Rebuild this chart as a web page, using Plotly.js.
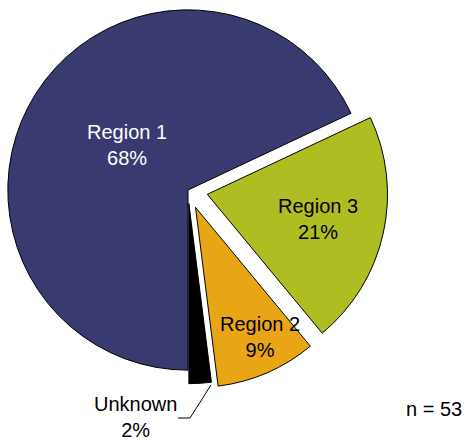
<!DOCTYPE html>
<html>
<head>
<meta charset="utf-8">
<script src="https://cdn.plot.ly/plotly-3.0.1.min.js"></script>
<style>
  html, body { margin: 0; padding: 0; width: 466px; height: 442px; overflow: hidden; background: #fff; }
  #chart { position: absolute; left: -12px; top: -10px; width: 490px; height: 460px; }
</style>
</head>
<body>
<div id="chart"></div>
<script>
// ---- data ----
const categories = ["Region 1", "Region 3", "Region 2", "Unknown"];
const percents = [68, 21, 9, 2];
const sampleSize = 53;

// ---- styling ----
const colors = ["#383A70", "#AEBD21", "#E8A617", "#000000"];
const pulls = [0, 0.11, 0.105, 0.075];

const W = 490, H = 460, OX = 12, OY = 10;
const px = x => (x + OX) / W;
const py = y => 1 - (y + OY) / H;

const labelFont = { family: "Liberation Sans, Arial, sans-serif", size: 20, color: "#000" };

const labelPos = {
  "Region 1": [127, 145, "#ffffff"],
  "Region 3": [318, 219, "#000000"],
  "Region 2": [260, 337, "#000000"],
  "Unknown":  [135, 417, "#000000"]
};

const annotations = categories.map((c, i) => ({
  xref: "paper", yref: "paper",
  x: px(labelPos[c][0]), y: py(labelPos[c][1]),
  xanchor: "center", yanchor: "middle",
  text: c + "<br>" + percents[i] + "%",
  showarrow: false,
  font: Object.assign({}, labelFont, { color: labelPos[c][2] })
}));
annotations.push({
  xref: "paper", yref: "paper",
  x: px(434), y: py(409),
  xanchor: "center", yanchor: "middle",
  text: "n = " + sampleSize,
  showarrow: false,
  font: labelFont
});

const trace = {
  type: "pie",
  labels: categories,
  values: percents,
  sort: false,
  direction: "clockwise",
  rotation: 180,
  pull: pulls,
  textinfo: "none",
  hoverinfo: "label+percent",
  marker: { colors: colors, line: { color: "#000000", width: 1 } },
  domain: { x: [0, 400 / W], y: [1 - 400 / H, 1] },
  showlegend: false
};

const shapes = [{
  type: "path", xref: "paper", yref: "paper",
  path: `M ${px(211)},${py(385)} L ${px(190)},${py(418)} L ${px(178)},${py(418)}`,
  line: { color: "#000000", width: 1 }
}];

Plotly.newPlot("chart", [trace], {
  width: W, height: H,
  margin: { l: 0, r: 0, t: 0, b: 0 },
  paper_bgcolor: "#ffffff",
  showlegend: false,
  annotations: annotations,
  shapes: shapes
}, { displayModeBar: false, staticPlot: true });
</script>
</body>
</html>
